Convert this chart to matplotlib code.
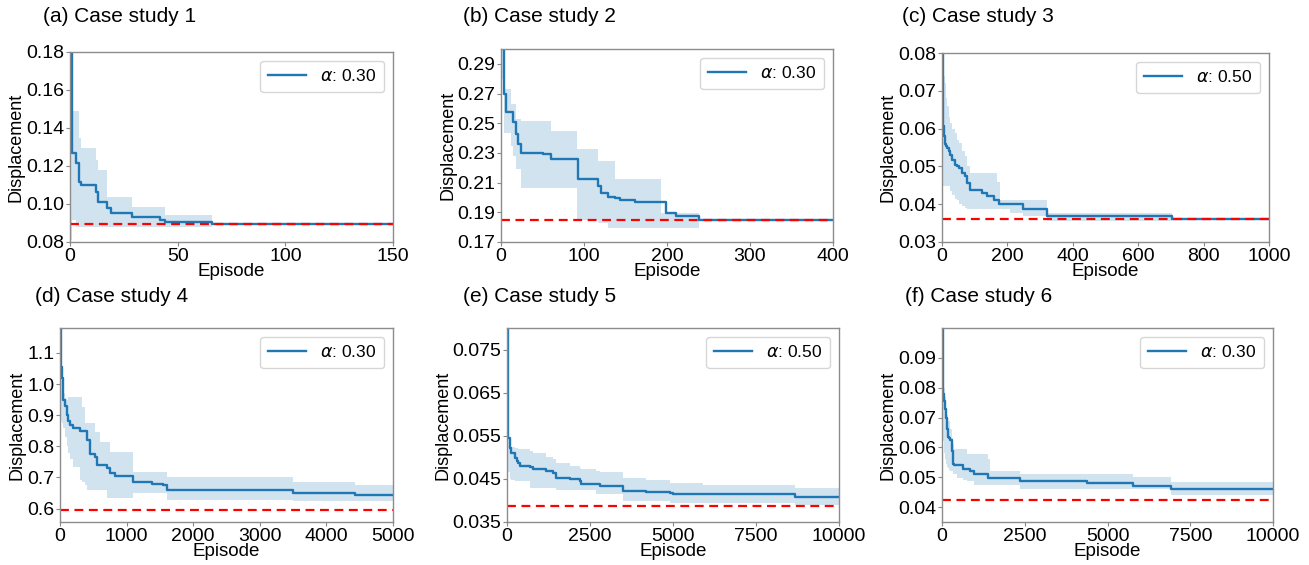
import matplotlib

matplotlib.use("Agg")
import matplotlib.pyplot as plt
from matplotlib.ticker import FormatStrFormatter

plt.rcParams["font.family"] = ["Liberation Sans", "DejaVu Sans"]

# values, as step curves (value holds until next episode)
a_ep = [0, 1, 3, 4, 5, 11, 12, 13, 17, 19, 29, 42, 44, 66, 150]
a_mean = [0.19, 0.1267, 0.1214, 0.1117, 0.110, 0.110, 0.1065, 0.1012, 0.0977, 0.0954, 0.0933, 0.0915, 0.0907, 0.0895, 0.0895]
a_hi = [0.19, 0.1487, 0.1487, 0.135, 0.1293, 0.1293, 0.1232, 0.118, 0.1038, 0.1038, 0.0985, 0.0985, 0.0942, 0.0895, 0.0895]
a_lo = [0.081, 0.0915, 0.088, 0.088, 0.088, 0.088, 0.088, 0.088, 0.088, 0.088, 0.088, 0.088, 0.088, 0.0895, 0.0895]

b_ep = [0, 4, 6, 12, 14, 18, 20, 24, 50, 60, 91, 93, 115, 117, 121, 129, 137, 143, 161, 193, 199, 211, 236, 239, 400]
b_mean = [0.31, 0.2697, 0.2573, 0.2573, 0.2505, 0.2426, 0.2359, 0.2302, 0.2290, 0.2257, 0.2257, 0.2122, 0.2122, 0.2077, 0.2031, 0.2001, 0.1995, 0.1985, 0.1970, 0.1970, 0.1896, 0.1874, 0.1874, 0.1850, 0.1850]
b_hi = [0.31, 0.2731, 0.2731, 0.263, 0.263, 0.2528, 0.2528, 0.2517, 0.2517, 0.2449, 0.2325, 0.2325, 0.2325, 0.2246, 0.2246, 0.2246, 0.2122, 0.2122, 0.2122, 0.1896, 0.1896, 0.1896, 0.1896, 0.1850, 0.1850]
b_lo = [0.28, 0.2437, 0.2437, 0.235, 0.228, 0.2189, 0.2189, 0.2065, 0.2065, 0.2065, 0.1851, 0.1851, 0.1851, 0.1830, 0.1830, 0.1794, 0.1794, 0.1794, 0.1794, 0.1794, 0.1794, 0.1794, 0.1794, 0.1850, 0.1850]

c_ep = [0, 3, 5, 10, 13, 15, 20, 25, 31, 41, 46, 51, 61, 71, 76, 86, 122, 137, 158, 168, 173, 178, 209, 249, 322, 702, 1000]
c_mean = [0.08, 0.0606, 0.058, 0.056, 0.0553, 0.0548, 0.054, 0.053, 0.0518, 0.0505, 0.050, 0.0496, 0.0483, 0.0474, 0.0456, 0.0438, 0.043, 0.0421, 0.0412, 0.0410, 0.0401, 0.0401, 0.0401, 0.0386, 0.0368, 0.0362, 0.0362]
c_hi = [0.08, 0.075, 0.074, 0.072, 0.068, 0.0659, 0.063, 0.0615, 0.060, 0.0588, 0.057, 0.0562, 0.054, 0.0527, 0.050, 0.0483, 0.0483, 0.0483, 0.0483, 0.046, 0.046, 0.0412, 0.0412, 0.0412, 0.0377, 0.0362, 0.0362]
c_lo = [0.062, 0.0447, 0.0447, 0.0447, 0.0447, 0.0447, 0.0447, 0.0434, 0.0425, 0.0415, 0.0412, 0.040, 0.0395, 0.039, 0.0388, 0.0386, 0.0386, 0.0386, 0.0386, 0.0386, 0.0386, 0.0386, 0.0377, 0.0368, 0.0355, 0.0362, 0.0362]

d_ep = [0, 15, 25, 40, 50, 75, 100, 125, 150, 200, 300, 325, 375, 400, 450, 525, 550, 600, 700, 750, 825, 1100, 1375, 1550, 1600, 3500, 4425, 5000]
d_mean = [1.18, 1.055, 1.02, 0.98, 0.95, 0.93, 0.90, 0.88, 0.87, 0.86, 0.85, 0.85, 0.85, 0.82, 0.775, 0.765, 0.74, 0.74, 0.73, 0.715, 0.705, 0.685, 0.68, 0.675, 0.66, 0.65, 0.645, 0.645]
d_hi = [1.18, 1.05, 1.013, 0.985, 0.97, 0.955, 0.95, 0.96, 0.96, 0.96, 0.96, 0.927, 0.874, 0.874, 0.874, 0.847, 0.847, 0.815, 0.815, 0.783, 0.783, 0.719, 0.716, 0.716, 0.703, 0.687, 0.677, 0.677]
d_lo = [1.0, 0.88, 0.875, 0.865, 0.86, 0.83, 0.80, 0.78, 0.76, 0.735, 0.693, 0.685, 0.677, 0.66, 0.66, 0.66, 0.66, 0.66, 0.634, 0.634, 0.634, 0.65, 0.65, 0.65, 0.629, 0.623, 0.623, 0.623]

e_ep = [0, 20, 30, 80, 130, 230, 300, 330, 380, 680, 780, 1180, 1390, 1490, 1890, 2190, 2240, 2690, 2790, 3490, 4200, 4900, 5000, 5900, 8660, 10000]
e_mean = [0.08, 0.0585, 0.0546, 0.0522, 0.051, 0.0499, 0.0492, 0.0487, 0.048, 0.0477, 0.0472, 0.0468, 0.0464, 0.0452, 0.0449, 0.0445, 0.0437, 0.0437, 0.0433, 0.0423, 0.0419, 0.0417, 0.0415, 0.0414, 0.0408, 0.0408]
e_hi = [0.08, 0.058, 0.0545, 0.053, 0.0525, 0.0522, 0.0522, 0.052, 0.052, 0.0515, 0.051, 0.050, 0.0495, 0.0487, 0.048, 0.0475, 0.0472, 0.0468, 0.0465, 0.0452, 0.0447, 0.0441, 0.0440, 0.0435, 0.0429, 0.0429]
e_lo = [0.056, 0.0475, 0.0465, 0.045, 0.0447, 0.0445, 0.0445, 0.0445, 0.0445, 0.0429, 0.0429, 0.0429, 0.0429, 0.0425, 0.0425, 0.0425, 0.0425, 0.0414, 0.0414, 0.0398, 0.0398, 0.0394, 0.0394, 0.0394, 0.039, 0.039]

f_ep = [0, 30, 70, 100, 130, 150, 170, 200, 250, 300, 330, 350, 450, 630, 750, 850, 955, 1400, 1460, 2360, 4370, 5780, 6930, 8290, 10000]
f_mean = [0.10, 0.0778, 0.0756, 0.073, 0.0699, 0.066, 0.0634, 0.063, 0.0624, 0.0589, 0.0543, 0.054, 0.054, 0.0526, 0.0526, 0.052, 0.0511, 0.0498, 0.0498, 0.0487, 0.048, 0.0472, 0.0462, 0.0459, 0.0459]
f_hi = [0.10, 0.085, 0.080, 0.077, 0.073, 0.071, 0.069, 0.069, 0.066, 0.063, 0.061, 0.0595, 0.0595, 0.0595, 0.0577, 0.0577, 0.0577, 0.056, 0.052, 0.051, 0.051, 0.050, 0.0484, 0.0484, 0.0484]
f_lo = [0.08, 0.062, 0.058, 0.056, 0.0545, 0.0533, 0.053, 0.0525, 0.0522, 0.052, 0.051, 0.051, 0.0498, 0.0492, 0.0487, 0.0487, 0.0475, 0.0475, 0.0475, 0.0459, 0.0459, 0.0459, 0.044, 0.044, 0.044]

titles = ["(a) Case study 1", "(b) Case study 2", "(c) Case study 3",
          "(d) Case study 4", "(e) Case study 5", "(f) Case study 6"]
alphas = ["0.30", "0.30", "0.50", "0.30", "0.50", "0.30"]
optimum = [0.0895, 0.1850, 0.0362, 0.595, 0.0388, 0.0425]
x_max = [150, 400, 1000, 5000, 10000, 10000]
x_ticks = [
    [0, 50, 100, 150],
    [0, 100, 200, 300, 400],
    [0, 200, 400, 600, 800, 1000],
    [0, 1000, 2000, 3000, 4000, 5000],
    [0, 2500, 5000, 7500, 10000],
    [0, 2500, 5000, 7500, 10000],
]
y_lims = [(0.08, 0.18), (0.17, 0.30), (0.03, 0.08), (0.557, 1.18), (0.035, 0.08), (0.035, 0.10)]
y_ticks = [
    [0.08, 0.10, 0.12, 0.14, 0.16, 0.18],
    [0.17, 0.19, 0.21, 0.23, 0.25, 0.27, 0.29],
    [0.03, 0.04, 0.05, 0.06, 0.07, 0.08],
    [0.6, 0.7, 0.8, 0.9, 1.0, 1.1],
    [0.035, 0.045, 0.055, 0.065, 0.075],
    [0.04, 0.05, 0.06, 0.07, 0.08, 0.09],
]
y_fmt = ["%.2f", "%.2f", "%.2f", "%.1f", "%.3f", "%.2f"]

series = [
    (a_ep, a_mean, a_lo, a_hi),
    (b_ep, b_mean, b_lo, b_hi),
    (c_ep, c_mean, c_lo, c_hi),
    (d_ep, d_mean, d_lo, d_hi),
    (e_ep, e_mean, e_lo, e_hi),
    (f_ep, f_mean, f_lo, f_hi),
]

W, H = 1309, 565
# axes boxes in pixels: left, right, top, bottom
boxes = [
    (70, 393, 52, 242), (501, 833, 49, 242), (942, 1269, 53, 242),
    (60, 393, 328, 522), (507, 839, 328, 522), (942, 1273, 328, 522),
]
title_pos = [(43, 17), (463, 17), (902, 17), (35, 297), (463, 297), (905, 297)]

fig = plt.figure(figsize=(W / 100, H / 100), dpi=100)

for i, (ep, mean, lo, hi) in enumerate(series):
    left, right, top, bottom = boxes[i]
    ax = fig.add_axes([left / W, 1 - bottom / H, (right - left) / W, (bottom - top) / H])

    ax.fill_between(ep, lo, hi, step="post", color="#1f77b4", alpha=0.2, linewidth=0)
    ax.plot(ep, mean, drawstyle="steps-post", color="#1f77b4", linewidth=1.7,
            label=rf"$\alpha$: {alphas[i]}")
    ax.axhline(optimum[i], color="red", linestyle="--", linewidth=1.6, dashes=(4, 2.5))

    ax.set_xlim(0, x_max[i])
    ax.set_ylim(*y_lims[i])
    ax.set_xticks(x_ticks[i])
    ax.set_yticks(y_ticks[i])
    ax.yaxis.set_major_formatter(FormatStrFormatter(y_fmt[i]))
    ax.tick_params(labelsize=14, length=3, width=0.8, color="#888888", pad=1)
    for spine in ax.spines.values():
        spine.set_color("#8c8c8c")
        spine.set_linewidth(1.0)

    ax.set_xlabel("Episode", fontsize=13.5, labelpad=-1)
    ax.set_ylabel("Displacement", fontsize=13, labelpad=1)
    ax.legend(loc="upper right", fontsize=12.5, handlelength=2.2, borderpad=0.45)

    tx, ty = title_pos[i]
    fig.text(tx / W, 1 - ty / H, titles[i], fontsize=15, ha="left", va="center")

fig.savefig("out.png", dpi=100)
